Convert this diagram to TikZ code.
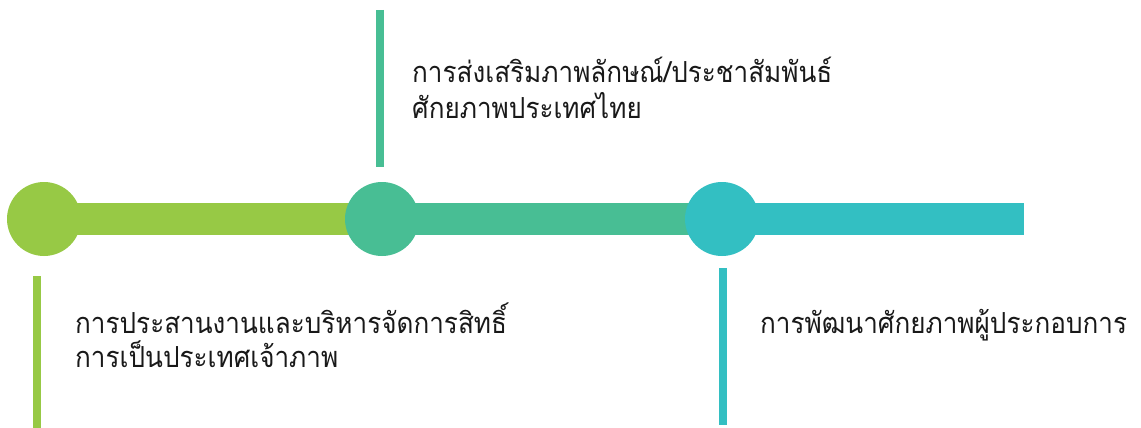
\documentclass[tikz,border=0pt]{standalone}
\usepackage{fontspec}
\newfontfamily\thaifont[Script=Thai,FakeStretch=0.9]{Loma}
\definecolor{lime}{HTML}{97C945}
\definecolor{jade}{HTML}{48BE94}
\definecolor{aqua}{HTML}{33BFC2}
\begin{document}
\begin{tikzpicture}[x=1pt,y=-1pt,
  dot/.style={circle,fill=#1,minimum size=74pt,inner sep=0pt},
  band/.style={line width=32pt,draw=#1,line cap=butt},
  tick/.style={line width=8pt,draw=#1,line cap=butt},
  label/.style={anchor=base west,inner sep=0pt,text=black!90,font=\thaifont\fontsize{29}{34}\selectfont}]
  \useasboundingbox (0,0) rectangle (1141,428);
  % milestone positions
  \coordinate (p1) at (44,219);
  \coordinate (p2) at (382,219);
  \coordinate (p3) at (722,219);
  \coordinate (tail) at (1024,219);
  % timeline bands
  \draw[band=lime] (p1) -- (p2);
  \draw[band=jade] (p2) -- (p3);
  \draw[band=aqua] (p3) -- (tail);
  % milestone dots
  \node[dot=lime] (m1) at (p1) {};
  \node[dot=jade] (m2) at (p2) {};
  \node[dot=aqua] (m3) at (p3) {};
  % vertical ticks
  \coordinate (a1) at (37,276);  \coordinate (b1) at (37,428);
  \coordinate (a2) at (380,10);  \coordinate (b2) at (380,167);
  \coordinate (a3) at (723,268); \coordinate (b3) at (723,425);
  \draw[tick=lime] (a1) -- (b1);
  \draw[tick=jade] (a2) -- (b2);
  \draw[tick=aqua] (a3) -- (b3);
  % captions
  \node[label] (t2a) at (412,82) {การส่งเสริมภาพลักษณ์/ประชาสัมพันธ์};
  \node[label] (t2b) at (412,118) {ศักยภาพประเทศไทย};
  \node[label] (t1a) at (75,333) {การประสานงานและบริหารจัดการสิทธิ์};
  \node[label] (t1b) at (75,367) {การเป็นประเทศเจ้าภาพ};
  \node[label] (t3a) at (760,333) {การพัฒนาศักยภาพผู้ประกอบการ};
\end{tikzpicture}
\end{document}
